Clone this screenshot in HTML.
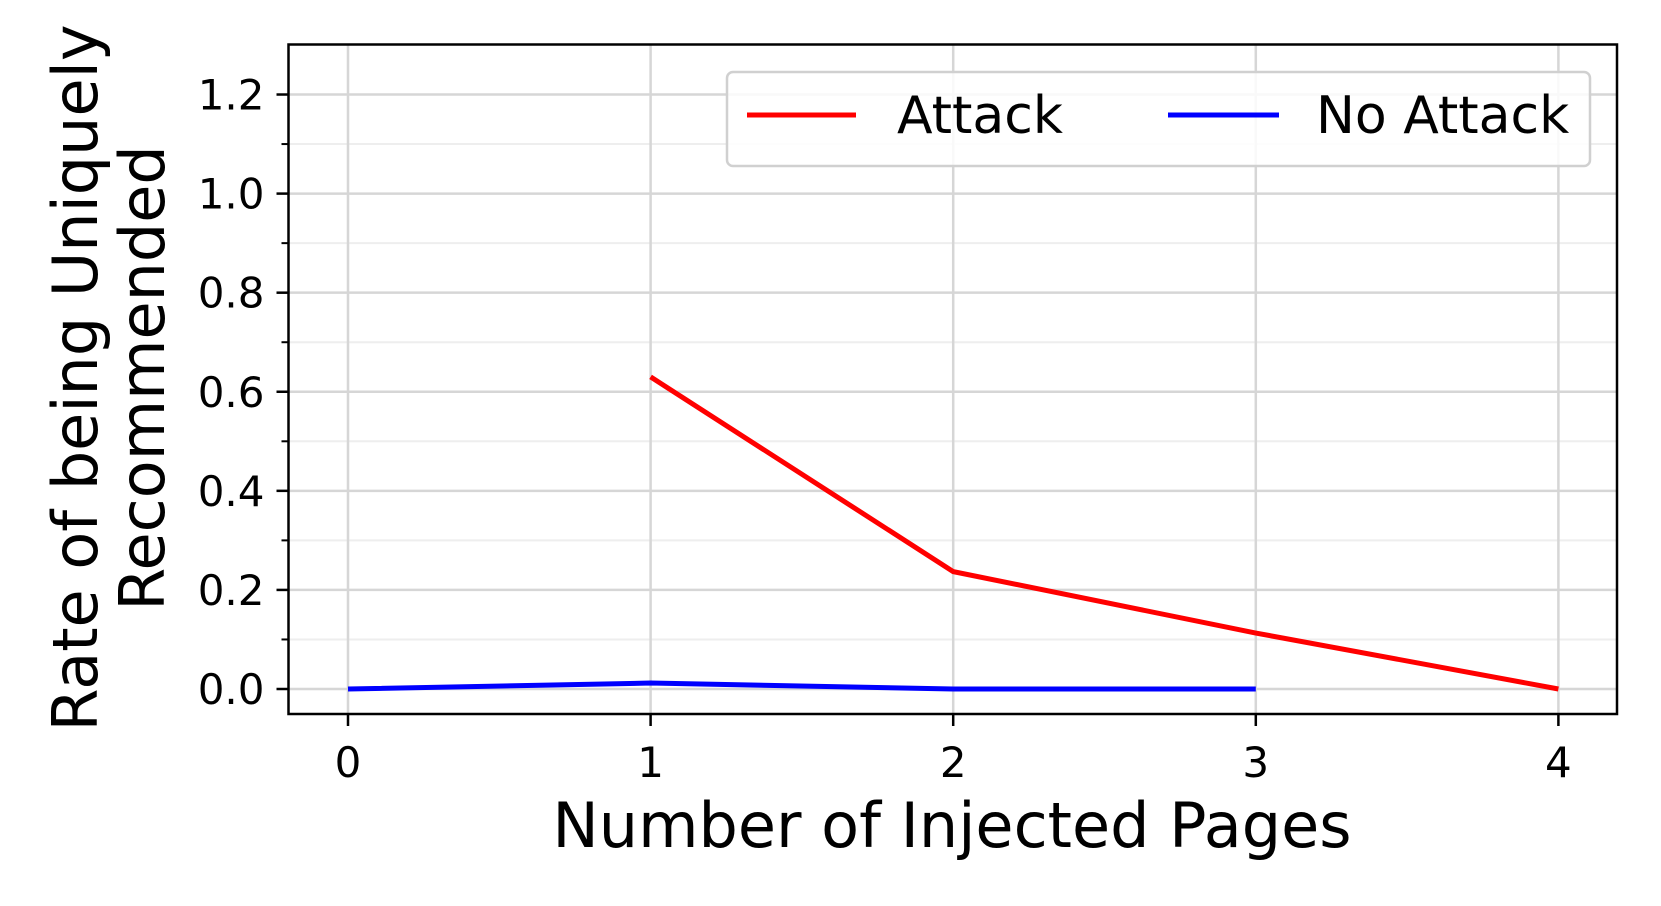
<!DOCTYPE html>
<html><head><meta charset="utf-8"><style>body{margin:0;background:#fff}svg{display:block}text{font-family:"DejaVu Sans","Liberation Sans",sans-serif;fill:#000}</style></head>
<body>
<svg id="chart" width="1661" height="906" viewBox="0 0 1661 906" xmlns="http://www.w3.org/2000/svg"></svg>
<script>
const categories=[0,1,2,3,4];
const attackX=[1,2,3,4];
const attackValues=[0.63,0.237,0.113,0.0];
const noAttackX=[0,1,2,3];
const noAttackValues=[0,0.012,0,0];
const yTicks=[0.0,0.2,0.4,0.6,0.8,1.0,1.2];
const yMinorTicks=[0.1,0.3,0.5,0.7,0.9,1.1];
const yTickLabels=["0.0","0.2","0.4","0.6","0.8","1.0","1.2"];
const xTickLabels=["0","1","2","3","4"];

const L=288.5,R=1617,T=44.5,B=714;
const X=v=>348+v*302.6;
const Y=v=>689-v*495.4;
const svg=document.getElementById('chart');
const NS='http://www.w3.org/2000/svg';
function mk(tag,attrs,parent){const e=document.createElementNS(NS,tag);for(const k in attrs)e.setAttribute(k,attrs[k]);(parent||svg).appendChild(e);return e;}

yMinorTicks.forEach(v=>{
  const g=mk('line',{x1:L,x2:R,y1:Y(v),y2:Y(v),stroke:'#eeeeee','stroke-width':2});
  
  
  const t=mk('line',{x1:L-7,x2:L,y1:Y(v),y2:Y(v),stroke:'#000','stroke-width':2});
  
  
});
yTicks.forEach((v,i)=>{
  const g=mk('line',{x1:L,x2:R,y1:Y(v),y2:Y(v),stroke:'#d6d6d6','stroke-width':2.5});
  
  
  const t=mk('line',{x1:L-12,x2:L,y1:Y(v),y2:Y(v),stroke:'#000','stroke-width':2.5});
  
  
  const tx=mk('text',{x:L-24,y:Y(v)+15,'text-anchor':'end','font-size':42});
  tx.textContent=yTickLabels[i];
  
  
});
categories.forEach((c,i)=>{
  const g=mk('line',{x1:X(c),x2:X(c),y1:T,y2:B,stroke:'#d6d6d6','stroke-width':2.5});
  
  
  const t=mk('line',{x1:X(c),x2:X(c),y1:B,y2:B+12,stroke:'#000','stroke-width':2.5});
  
  
  const tx=mk('text',{x:X(c),y:777,'text-anchor':'middle','font-size':42});
  tx.textContent=xTickLabels[i];
  
  
});
const a=mk('polyline',{points:attackX.map((x,i)=>X(x)+','+Y(attackValues[i])).join(' '),fill:'none',stroke:'#ff0000','stroke-width':5});


const n=mk('polyline',{points:noAttackX.map((x,i)=>X(x)+','+Y(noAttackValues[i])).join(' '),fill:'none',stroke:'#0000ff','stroke-width':5});


const fr=mk('rect',{x:L,y:T,width:R-L,height:B-T,fill:'none',stroke:'#000','stroke-width':2.5});



const lg=mk('g',{});


mk('rect',{x:727,y:72,width:863,height:94,rx:6,fill:'rgba(255,255,255,0.85)',stroke:'#d0d0d0','stroke-width':2.5},lg);
const e1=mk('g',{},lg);


mk('line',{x1:747,x2:856,y1:115,y2:115,stroke:'#ff0000','stroke-width':5},e1);
mk('text',{x:897,y:133,'font-size':52},e1).textContent='Attack';
const e2=mk('g',{},lg);


mk('line',{x1:1168,x2:1279,y1:115,y2:115,stroke:'#0000ff','stroke-width':5},e2);
mk('text',{x:1316,y:133,'font-size':52},e2).textContent='No Attack';

const xl=mk('text',{x:952,y:847,'text-anchor':'middle','font-size':62});
xl.textContent='Number of Injected Pages';


const yl=mk('text',{transform:'translate(0,378) rotate(-90)','text-anchor':'middle','font-size':62});


mk('tspan',{x:0,y:97},yl).textContent='Rate of being Uniquely';
mk('tspan',{x:0,y:164},yl).textContent='Recommended';
</script>
</body></html>
